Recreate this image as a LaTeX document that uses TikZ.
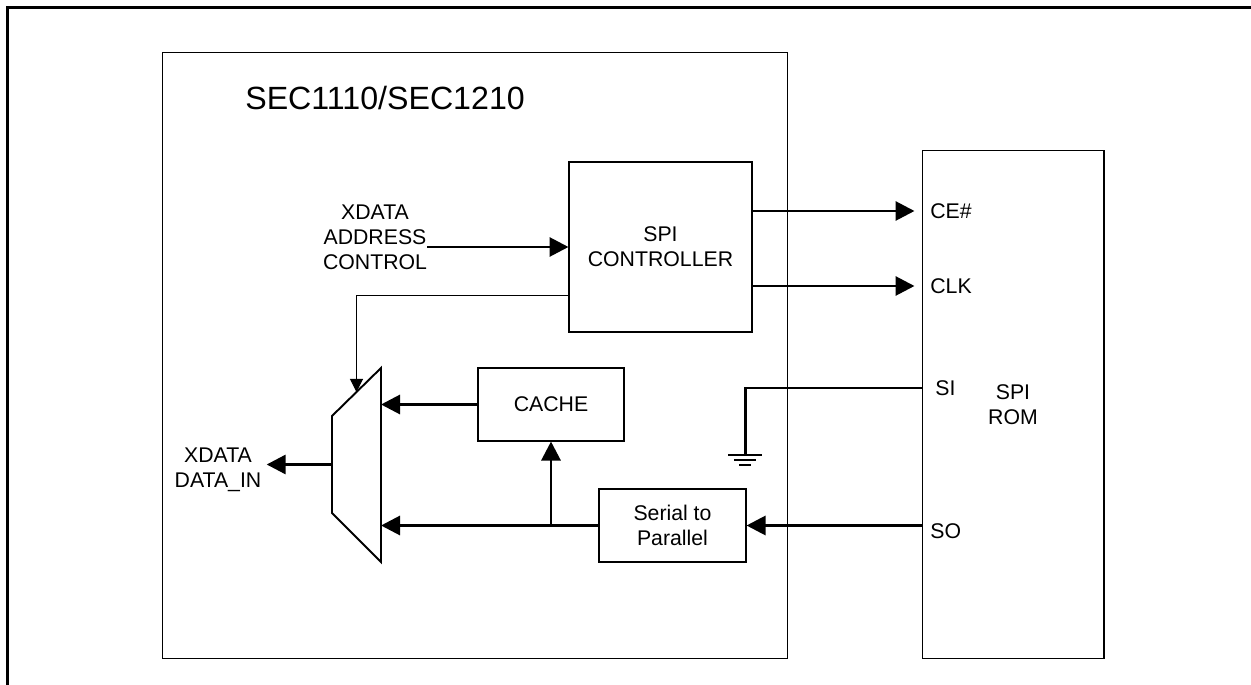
\documentclass[tikz,border=0pt]{standalone}
\usepackage{fontspec}
\setmainfont{Liberation Sans}
\usetikzlibrary{positioning,arrows.meta,calc}

\begin{document}
\begin{tikzpicture}[x=0.02cm,y=-0.02cm,font=\fontsize{12.1}{14.2}\selectfont,
  blk/.style={draw,line width=0.6pt,inner sep=0pt,align=center},
  lbl/.style={inner sep=0pt,align=center},
  bus/.style={line width=1.7pt},
  arr/.style={bus,-{Triangle[length=3.8mm,width=3.8mm]}},
  sel/.style={line width=0.6pt,-{Triangle[length=2.6mm,width=2.6mm]}}]
\useasboundingbox (0,0) rectangle (1251,685);
\draw[line width=1.7pt] (7.5,685) |- (1251,7.5);
% chip and rom
\node[blk,minimum width=12.52cm,minimum height=12.14cm] (chip) at (475,355.5) {};
\node[lbl,font=\fontsize{18.3}{21}\selectfont,anchor=west] (title) at (245,98) {SEC1110/SEC1210};
\node[blk,minimum width=3.64cm,minimum height=10.18cm] (rom) at (1013,404.5) {SPI\\ROM};
% blocks
\node[blk,minimum width=3.66cm,minimum height=3.4cm] (spi) at (660.5,247) {SPI\\CONTROLLER};
\node[blk,minimum width=2.92cm,minimum height=1.46cm] (cache) at (551,404.5) {CACHE};
\node[blk,minimum width=2.94cm,minimum height=1.46cm] (s2p) at (672.5,525.5) {Serial to\\Parallel};
% mux
\coordinate (mux-tl) at (332,416);
\coordinate (mux-tr) at (381,368);
\coordinate (mux-br) at (381,562);
\coordinate (mux-bl) at (332,513);
\coordinate (mux-out) at ($(mux-tl)!0.5!(mux-bl)$);
\draw[line width=1.1pt] (mux-tl) -- (mux-tr) -- (mux-br) -- (mux-bl) -- cycle;
% labels
\node[lbl] (addr) at (375,237) {XDATA\\ADDRESS\\CONTROL};
\node[lbl] (din) at (218,469.5) {XDATA\\DATA\_IN};
\node[lbl,anchor=west] (ce) at (930,211) {CE\#};
\node[lbl,anchor=west] (clk) at (930,286) {CLK};
\node[lbl,anchor=west] (si) at (935,388) {SI};
\node[lbl,anchor=west] (so) at (930,531) {SO};
% connectors
\draw[arr] (addr.east |- spi.west) -- (spi.west);
\foreach \p in {ce,clk} \draw[arr,shorten >=0.14cm] (\p -| spi.east) -- (\p -| rom.west);
\draw[sel] ($(spi.south west)+(0,-37)$) -| ($(mux-tl)!0.5!(mux-tr)$);
\draw[arr] (cache.west) -- (cache.west -| mux-tr);
\draw[arr] (s2p.west) -- (s2p.west -| mux-tr);
\draw[arr] (cache.south |- s2p.west) -- (cache.south);
\draw[arr] (s2p.east -| rom.west) -- (s2p.east);
\draw[arr,shorten >=0.1cm] (mux-out) -- (mux-out -| din.east);
% ground on SI
\coordinate (gnd) at (745,455);
\draw[bus] (si -| rom.west) -| (gnd);
\draw[line width=1.7pt] (gnd) ++(-17,0) -- ++(34,0) (gnd) ++(-11,5) -- ++(22,0) (gnd) ++(-6,10) -- ++(12,0);
\end{tikzpicture}
\end{document}
